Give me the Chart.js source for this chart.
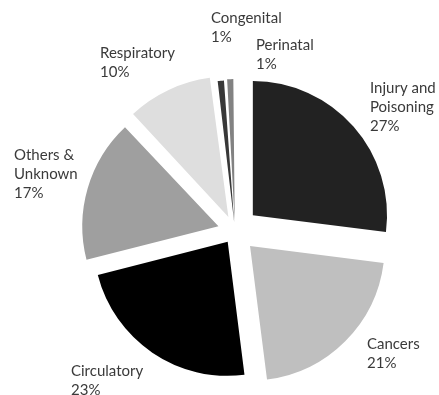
<!DOCTYPE html>
<html>
<head>
<meta charset="utf-8">
<script src="https://cdn.jsdelivr.net/npm/chart.js@4.4.1/dist/chart.umd.min.js"></script>
<style>
  html, body { margin: 0; padding: 0; background: #fff; }
  #wrap { width: 439px; height: 395px; position: relative; }
</style>
</head>
<body>
<div id="wrap"><canvas id="myChart" width="439" height="395"></canvas></div>
<script>
// causes of death, share in percent
const categories = ['Injury and Poisoning', 'Cancers', 'Circulatory', 'Others & Unknown', 'Respiratory', 'Congenital', 'Perinatal'];
const shares = [27, 21, 23, 17, 10, 1, 1];
const labelLines = [
    ['Injury and', 'Poisoning', '27%'],
    ['Cancers', '21%'],
    ['Circulatory', '23%'],
    ['Others &', 'Unknown', '17%'],
    ['Respiratory', '10%'],
    ['Congenital', '1%'],
    ['Perinatal', '1%']
];

// styling
const sliceColors = ['#222222', '#bfbfbf', '#000000', '#9f9f9f', '#dedede', '#383838', '#828282'];
const sliceOffsets = [95, 85, 52, 69, 62, 35, 37];
// left x and first baseline of each label block
const labelPos = [[370, 93], [367, 349], [71, 376], [14, 160], [100, 58], [211, 23], [256, 50]];
const lineHeight = 19;

const outsideLabels = {
    id: 'outsideLabels',
    afterDraw(chart) {
        const ctx = chart.ctx;
        ctx.save();
        ctx.font = '15px Lato';
        ctx.fillStyle = '#3a3a3a';
        ctx.textAlign = 'left';
        ctx.textBaseline = 'alphabetic';
        labelLines.forEach((lines, i) => {
            const [x, y] = labelPos[i];
            lines.forEach((line, j) => ctx.fillText(line, x, y + j * lineHeight));
        });
        ctx.restore();
    }
};

const ctx = document.getElementById('myChart').getContext('2d');
window.myChart = new Chart(ctx, {
    type: 'pie',
    data: {
        labels: categories,
        datasets: [{
            data: shares,
            backgroundColor: sliceColors,
            borderWidth: 0,
            offset: sliceOffsets,
            hoverOffset: 0,
            radius: 134
        }]
    },
    options: {
        responsive: false,
        animation: false,
        events: [],
        layout: { padding: { left: 31, top: 67, right: 0, bottom: 0 } },
        plugins: {
            legend: { display: false },
            tooltip: { enabled: false }
        }
    },
    plugins: [outsideLabels]
});
</script>
</body>
</html>
